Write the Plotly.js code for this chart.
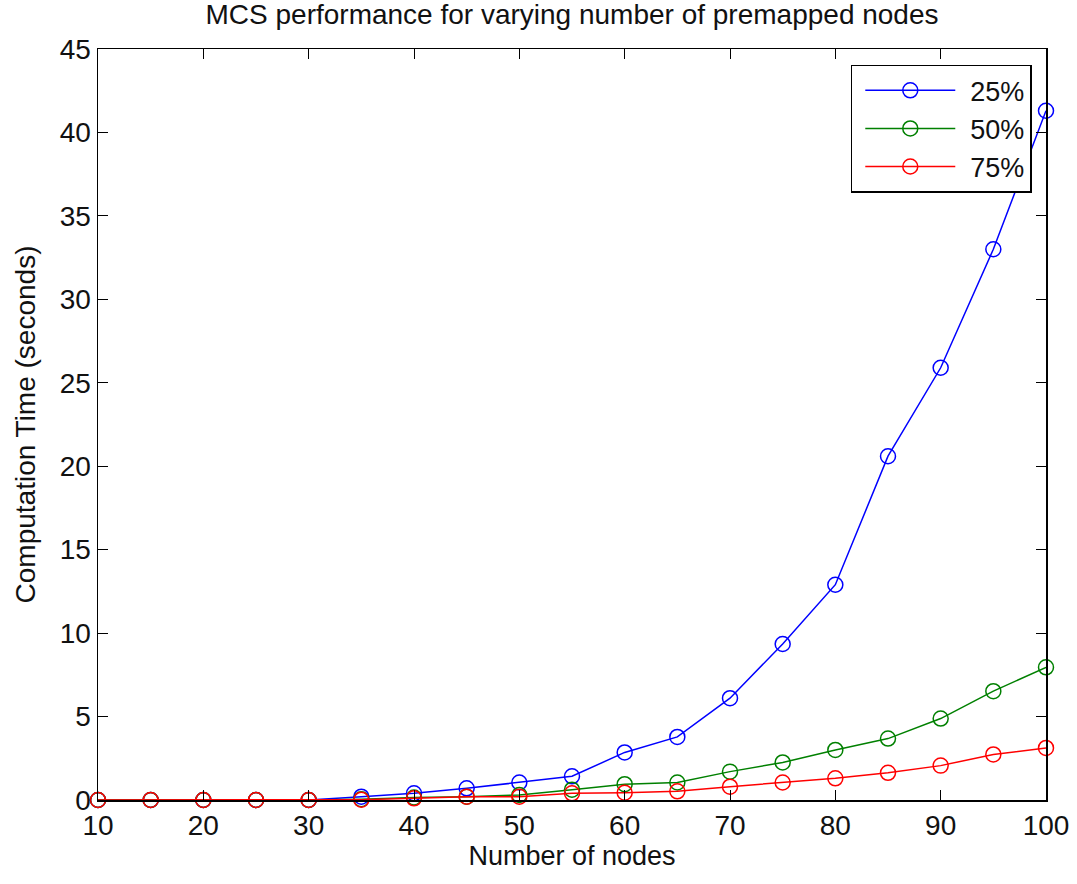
<!DOCTYPE html>
<html>
<head>
<meta charset="utf-8">
<script src="https://cdn.plot.ly/plotly-3.0.1.min.js"></script>
<style>html,body{margin:0;padding:0;background:#fff;}#chart{width:1077px;height:884px;}</style>
</head>
<body>
<div id="chart"></div>
<script>
const nodes = [10,15,20,25,30,35,40,45,50,55,60,65,70,75,80,85,90,95,100];
const time25 = [0,0,0,0,0,0.2,0.4,0.7,1.05,1.42,2.85,3.78,6.1,9.35,12.9,20.6,25.9,33.0,41.3];
const time50 = [0,0,0,0,0,0.05,0.15,0.2,0.3,0.62,0.95,1.05,1.7,2.25,3.0,3.68,4.88,6.52,7.95];
const time75 = [0,0,0,0,0,0.02,0.1,0.2,0.2,0.4,0.44,0.52,0.8,1.05,1.3,1.63,2.06,2.73,3.12];
const seriesNames = ['25%','50%','75%'];
const colors = ['#0000ff','#008000','#ff0000'];
const xTicks = [10,20,30,40,50,60,70,80,90,100];
const yTicks = [0,5,10,15,20,25,30,35,40,45];

const ys = [time25, time50, time75];
const traces = ys.map((y,i)=>({
  x: nodes, y: y, name: seriesNames[i], type:'scatter', mode:'lines+markers',
  line:{color:colors[i], width:1.5},
  marker:{symbol:'circle-open', size:15, color:colors[i], line:{width:1.5, color:colors[i]}},
  cliponaxis:false
}));

const font = {family:'Liberation Sans, Arial, sans-serif', color:'#111'};
const layout = {
  width:1077, height:884,
  margin:{l:98, r:31, t:49, b:84},
  paper_bgcolor:'#fff', plot_bgcolor:'#fff',
  font: font,
  title:{text:'MCS performance for varying number of premapped nodes', font:{...font, size:28}, xref:'paper', x:0.5, xanchor:'center', y:0.995, yanchor:'top'},
  xaxis:{range:[10,100], tickvals:xTicks, ticktext:xTicks.map(String), ticks:'inside', ticklen:10, tickcolor:'#000', showgrid:false, zeroline:false, showline:true, linecolor:'#000', linewidth:1.5, mirror:'ticks', tickfont:{...font, size:28}, title:{text:'Number of nodes', font:{...font, size:27}, standoff:6}},
  yaxis:{range:[0,45], tickvals:yTicks, ticktext:yTicks.map(String), ticks:'inside', ticklen:10, tickcolor:'#000', showgrid:false, zeroline:false, showline:true, linecolor:'#000', linewidth:1.5, mirror:'ticks', tickfont:{...font, size:28}, title:{text:'Computation Time (seconds)', font:{...font, size:28}, standoff:16}},
  legend:{x:0.985, y:0.979, xanchor:'right', yanchor:'top', bgcolor:'#fff', bordercolor:'#000', borderwidth:1.5, font:{...font, size:27}, itemwidth:108, tracegroupgap:0},
  showlegend:true
};
Plotly.newPlot('chart', traces, layout, {displayModeBar:false, staticPlot:true}).then(gd=>{
  // stretch legend sample lines to MATLAB-style length
  gd.querySelectorAll('.legend .legendlines path').forEach(p=>p.setAttribute('d','M13,0h90'));
  gd.querySelectorAll('.legend .legendpoints path').forEach(p=>p.setAttribute('transform','translate(58,0)'));
});
</script>
</body>
</html>
